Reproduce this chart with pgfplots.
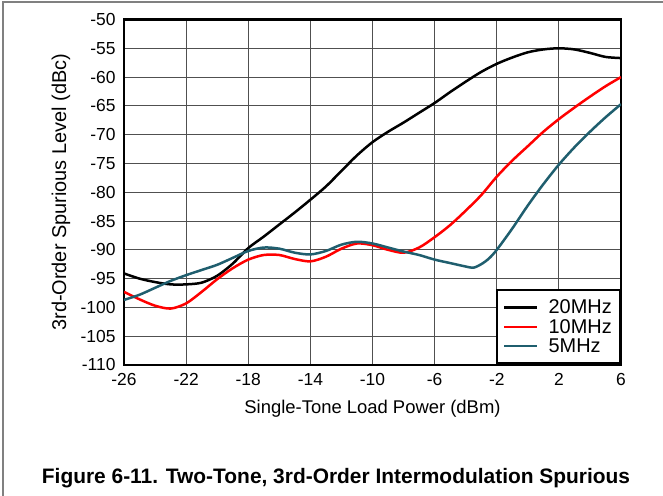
\documentclass[border=0pt]{standalone}
\usepackage{fontspec}
\setmainfont{Liberation Sans}
\usepackage{pgfplots}
\pgfplotsset{compat=1.18}
\definecolor{teal5}{RGB}{31,94,110}
\definecolor{gridc}{RGB}{80,80,80}
\begin{document}
\begin{tikzpicture}[x=1bp,y=1bp]
\useasboundingbox (0,0) rectangle (663,496);
\draw[black!50, line width=1.2bp] (3,0) -- (3,494) -- (663,494);
\begin{axis}[
  at={(124bp,131bp)}, anchor=south west, scale only axis,
  width=497bp, height=345.5bp,
  xmin=-26, xmax=6, ymin=-110, ymax=-50,
  xtick={-26,-22,...,6}, ytick={-110,-105,...,-50},
  grid=major, major grid style={gridc, line width=1bp},
  axis line style={line width=2.5bp},
  major tick length=0pt,
  tick label style={font=\fontsize{17.5}{20}\selectfont},
  xticklabel style={yshift=-5bp},
  yticklabel style={xshift=-5bp},
  /pgf/number format/assume math mode=true,
  xlabel={Single-Tone Load Power (dBm)},
  ylabel={3rd-Order Spurious Level (dBc)},
  xlabel style={font=\fontsize{18.5}{20}\selectfont, at={(axis description cs:0.5,-0.127)}, anchor=center},
  ylabel style={font=\fontsize{20}{22}\selectfont, at={(axis description cs:-0.127,0.5)}, anchor=center, rotate=0},
  legend style={at={(axis cs:6,-110)}, anchor=south east, draw=black, line width=2.5bp,
    font=\fontsize{20}{22}\selectfont, inner xsep=6bp, inner ysep=8bp,
    row sep=0bp, column sep=8bp, fill=white},
  legend cell align=left,
  legend image code/.code={\draw[#1, line width=2.5bp] (0bp,0bp) -- (33bp,0bp);},
]
\addplot[black, line width=2.5bp, smooth] coordinates {
(-26,-94.1) (-25,-95.0) (-24,-95.6) (-23,-96.0) (-22,-96.0) (-21,-95.7) (-20,-94.5)
(-19,-92.4) (-18,-89.7) (-17,-87.7) (-16,-85.6) (-15,-83.5) (-14,-81.3) (-13,-79.0)
(-12,-76.3) (-11,-73.6) (-10,-71.3) (-9,-69.5) (-8,-67.9) (-7,-66.2) (-6,-64.5)
(-5,-62.6) (-4,-60.8) (-3,-59.1) (-2,-57.7) (-1,-56.6) (0,-55.7) (1,-55.2) (2,-55.0)
(3,-55.2) (4,-55.8) (5,-56.5) (6,-56.7)};
\addlegendentry{20MHz}
\addplot[red, line width=2.5bp, smooth] coordinates {
(-26,-97.3) (-25,-98.6) (-24,-99.7) (-23,-100.2) (-22,-99.3) (-21,-97.3) (-20,-95.1)
(-19,-93.2) (-18,-91.7) (-17,-90.9) (-16,-90.9) (-15,-91.6) (-14,-92.0) (-13,-91.2)
(-12,-89.8) (-11,-88.9) (-10,-89.2) (-9,-90.0) (-8,-90.5) (-7,-89.6) (-6,-87.8)
(-5,-85.7) (-4,-83.2) (-3,-80.5) (-2,-77.3) (-1,-74.5) (0,-72.0) (1,-69.5) (2,-67.3)
(3,-65.3) (4,-63.4) (5,-61.6) (6,-60.0)};
\addlegendentry{10MHz}
\addplot[teal5, line width=2.5bp, smooth] coordinates {
(-26,-98.7) (-25,-97.8) (-24,-96.6) (-23,-95.4) (-22,-94.4) (-21,-93.5) (-20,-92.6)
(-19,-91.4) (-18,-90.2) (-17,-89.6) (-16,-89.8) (-15,-90.5) (-14,-90.8) (-13,-90.2)
(-12,-89.1) (-11,-88.6) (-10,-88.9) (-9,-89.6) (-8,-90.3) (-7,-90.9) (-6,-91.7)
(-5,-92.3) (-4,-92.9) (-3.5,-93.1) (-3,-92.5) (-2.5,-91.5) (-2,-90.0) (-1,-86.3)
(0,-82.3) (1,-78.6) (2,-75.2) (3,-72.2) (4,-69.5) (5,-67.0) (6,-64.7)};
\addlegendentry{5MHz}
\end{axis}
\node[font=\fontsize{21}{23}\bfseries\selectfont, anchor=base] at (336,12)
  {Figure 6-11. Two-Tone, 3rd-Order Intermodulation Spurious};
\end{tikzpicture}
\end{document}
